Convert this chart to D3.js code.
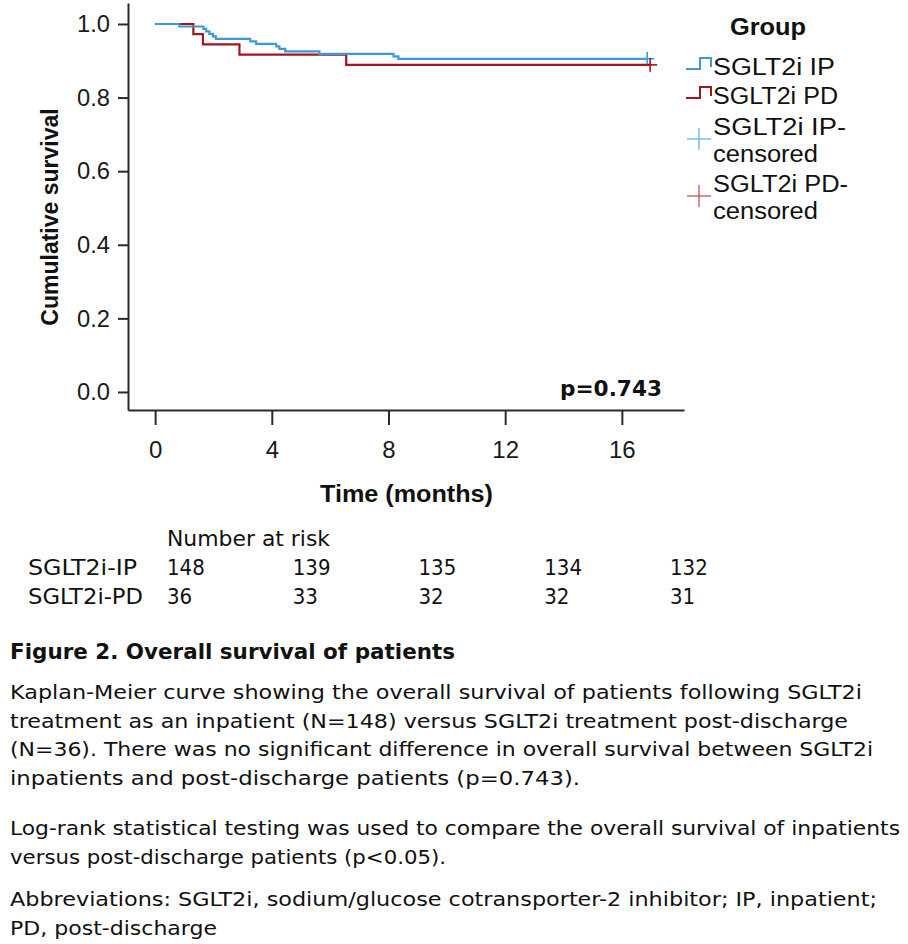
<!DOCTYPE html>
<html>
<head>
<meta charset="utf-8">
<script src="https://cdn.jsdelivr.net/npm/d3@7"></script>
<style>
  html, body { margin: 0; padding: 0; background: #fff; }
  svg { display: block; }
</style>
</head>
<body>
<svg id="chart" width="908" height="944"></svg>
<script>
// ---------------- DATA ----------------
const groups = ["SGLT2i IP", "SGLT2i PD"];
// Event times (months) and survival after each event
const ipTimes = [0, 0.83, 1.66, 1.75, 1.86, 1.98, 2.08, 3.26, 3.46, 4.15, 4.26, 4.46, 5.63, 8.17, 8.34];
const ipSurv  = [1.0, 0.9932, 0.9865, 0.9797, 0.9730, 0.9662, 0.9595, 0.9527, 0.9459, 0.9392, 0.9324, 0.9257, 0.9189, 0.9122, 0.9054];
const ipCensorTime = 16.87;
const pdTimes = [0, 1.31, 1.64, 2.89, 6.55];
const pdSurv  = [1.0, 0.9722, 0.9444, 0.9167, 0.8889];
const pdCensorTime = 16.97;

const xTicks = [0, 4, 8, 12, 16];
const yTicks = [0.0, 0.2, 0.4, 0.6, 0.8, 1.0];

const riskTimes = [0, 4, 8, 12, 16];
const riskIP = [148, 139, 135, 134, 132];
const riskPD = [36, 33, 32, 32, 31];
const riskLabels = ["SGLT2i-IP", "SGLT2i-PD"];

const pValueText = "p=0.743";
const figTitle = "Figure 2. Overall survival of patients";
const para1 = [
  "Kaplan-Meier curve showing the overall survival of patients following SGLT2i",
  "treatment as an inpatient (N=148) versus SGLT2i treatment post-discharge",
  "(N=36). There was no significant difference in overall survival between SGLT2i",
  "inpatients and post-discharge patients (p=0.743)."
];
const para2 = [
  "Log-rank statistical testing was used to compare the overall survival of inpatients",
  "versus post-discharge patients (p<0.05)."
];
const para3 = [
  "Abbreviations: SGLT2i, sodium/glucose cotransporter-2 inhibitor; IP, inpatient;",
  "PD, post-discharge"
];

// ---------------- STYLE ----------------
const colIP = "#3d9ad8";
const colPD = "#a3161f";
const colIPc = "#62aee3";
const colPDc = "#c2434f";
const axisCol = "#2a2a2a";
const chartFont = "'Liberation Sans', Arial, sans-serif";
const capFont = "'DejaVu Sans', Verdana, sans-serif";

const svg = d3.select("#chart");

const x = d3.scaleLinear().domain([-0.93, 18.13]).range([128, 684]);
const y = d3.scaleLinear().domain([-0.049, 1.057]).range([410, 3]);

// Axes
const yAxis = d3.axisLeft(y).tickValues(yTicks).tickFormat(d3.format(".1f")).tickSize(10).tickPadding(8).tickSizeOuter(0);
const xAxis = d3.axisBottom(x).tickValues(xTicks).tickFormat(d3.format("d")).tickSize(15).tickPadding(16).tickSizeOuter(0);

const gy = svg.append("g").attr("transform", `translate(${x.range()[0]},0)`).call(yAxis);
const gx = svg.append("g").attr("transform", `translate(0,${y.range()[0]})`).call(xAxis);
[gx, gy].forEach(g => {
  g.selectAll("path.domain").attr("stroke", axisCol).attr("stroke-width", 2);
  g.selectAll(".tick line").attr("stroke", axisCol).attr("stroke-width", 2);
  g.selectAll(".tick text").attr("fill", "#1a1a1a").style("font-family", chartFont).style("font-size", "24px");
});
gy.selectAll(".tick text").attr("textLength", 33).attr("lengthAdjust", "spacingAndGlyphs");

// Axis titles
svg.append("text")
  .attr("transform", `translate(58,${(y(0) + y(1)) / 2 + 9}) rotate(-90)`)
  .attr("text-anchor", "middle")
  .style("font-family", chartFont).style("font-weight", "bold").style("font-size", "23px")
  .attr("fill", "#111")
  .text("Cumulative survival");

svg.append("text")
  .attr("x", 320).attr("y", 502)
  .attr("textLength", 173).attr("lengthAdjust", "spacingAndGlyphs")
  .style("font-family", chartFont).style("font-weight", "bold").style("font-size", "23px")
  .attr("fill", "#111")
  .text("Time (months)");

// p value
svg.append("text")
  .attr("x", 560).attr("y", 396)
  .attr("textLength", 102).attr("lengthAdjust", "spacingAndGlyphs")
  .style("font-family", capFont).style("font-weight", "bold").style("font-size", "21px")
  .attr("fill", "#111")
  .text(pValueText);

// Survival curves
function stepPoints(times, surv, endTime) {
  const pts = times.map((t, i) => [t, surv[i]]);
  pts.push([endTime, surv[surv.length - 1]]);
  return pts;
}
const line = d3.line().curve(d3.curveStepAfter).x(d => x(d[0])).y(d => y(d[1]));

const series = [
  { name: groups[0], pts: stepPoints(ipTimes, ipSurv, ipCensorTime), col: colIP, ct: ipCensorTime, cs: ipSurv[ipSurv.length - 1] },
  { name: groups[1], pts: stepPoints(pdTimes, pdSurv, pdCensorTime), col: colPD, ct: pdCensorTime, cs: pdSurv[pdSurv.length - 1] }
];

series.slice().reverse().forEach(s => {
  svg.append("path").datum(s.pts)
    .attr("fill", "none").attr("stroke", s.col).attr("stroke-width", 2.2)
    .attr("d", line);
});
// Censor marks
series.forEach(s => {
  const cx = x(s.ct), cy = y(s.cs);
  svg.append("line").attr("x1", cx).attr("x2", cx).attr("y1", cy - 7).attr("y2", cy + 7)
    .attr("stroke", s.col).attr("stroke-width", 1.6);
  svg.append("line").attr("x1", cx - 7).attr("x2", cx + 7).attr("y1", cy).attr("y2", cy)
    .attr("stroke", s.col).attr("stroke-width", 1.6);
});

// Legend
const leg = svg.append("g").style("font-family", chartFont).attr("fill", "#111");
leg.append("text").attr("x", 730).attr("y", 35)
  .attr("textLength", 76).attr("lengthAdjust", "spacingAndGlyphs")
  .style("font-weight", "bold").style("font-size", "23px").text("Group");

const legItems = [
  { type: "step", col: colIP, lines: ["SGLT2i IP"], widths: [122], base: 75 },
  { type: "step", col: colPD, lines: ["SGLT2i PD"], widths: [125], base: 104 },
  { type: "plus", col: colIPc, lines: ["SGLT2i IP-", "censored"], widths: [133, 105], base: 135 },
  { type: "plus", col: colPDc, lines: ["SGLT2i PD-", "censored"], widths: [135, 105], base: 192 }
];
legItems.forEach(it => {
  if (it.type === "step") {
    const b = it.base;
    leg.append("path")
      .attr("d", `M686,${b - 6} H700 V${b - 17} H711 V${b - 8}`)
      .attr("fill", "none").attr("stroke", it.col).attr("stroke-width", 2);
  } else {
    const cx = 699, cy = it.base + 4;
    leg.append("line").attr("x1", cx - 12).attr("x2", cx + 12).attr("y1", cy).attr("y2", cy)
      .attr("stroke", it.col).attr("stroke-width", 1.2);
    leg.append("line").attr("x1", cx).attr("x2", cx).attr("y1", cy - 11).attr("y2", cy + 11)
      .attr("stroke", it.col).attr("stroke-width", 1.2);
  }
  it.lines.forEach((t, i) => {
    leg.append("text").attr("x", 713).attr("y", it.base + i * 27)
      .attr("textLength", it.widths[i]).attr("lengthAdjust", "spacingAndGlyphs")
      .style("font-size", "23px").text(t);
  });
});

// Number at risk table
const riskX = d3.scaleLinear().domain([0, 16]).range([167, 670]);
const tbl = svg.append("g").style("font-family", capFont).style("font-stretch", "condensed").attr("fill", "#111").style("font-size", "22px");
tbl.append("text").attr("x", riskX(0)).attr("y", 546).attr("textLength", 163).attr("lengthAdjust", "spacingAndGlyphs").text("Number at risk");
[[riskIP, 575, 109], [riskPD, 604, 115]].forEach(([vals, yy, lw], r) => {
  tbl.append("text").attr("x", 28).attr("y", yy).attr("textLength", lw).attr("lengthAdjust", "spacingAndGlyphs").text(riskLabels[r]);
  vals.forEach((v, i) => {
    tbl.append("text").attr("x", riskX(riskTimes[i])).attr("y", yy).text(v);
  });
});

// Caption
const cap = svg.append("g").style("font-family", capFont).attr("fill", "#111");
cap.append("text").attr("x", 10).attr("y", 659).style("font-weight", "bold").style("font-size", "21px")
  .attr("textLength", 445).attr("lengthAdjust", "spacingAndGlyphs").text(figTitle);
const p1w = [852, 838, 863, 570];
para1.forEach((t, i) => {
  cap.append("text").attr("x", 10).attr("y", 699 + i * 28.5).style("font-size", "20px")
    .attr("textLength", p1w[i]).attr("lengthAdjust", "spacingAndGlyphs").text(t);
});
const p2w = [890, 436];
para2.forEach((t, i) => {
  cap.append("text").attr("x", 10).attr("y", 835 + i * 28.5).style("font-size", "20px").style("font-stretch", "condensed")
    .attr("textLength", p2w[i]).attr("lengthAdjust", "spacingAndGlyphs").text(t);
});
const p3w = [867, 207];
para3.forEach((t, i) => {
  cap.append("text").attr("x", 10).attr("y", 906 + i * 28.5).style("font-size", "20px").style("font-stretch", "condensed")
    .attr("textLength", p3w[i]).attr("lengthAdjust", "spacingAndGlyphs").text(t);
});
</script>
</body>
</html>
